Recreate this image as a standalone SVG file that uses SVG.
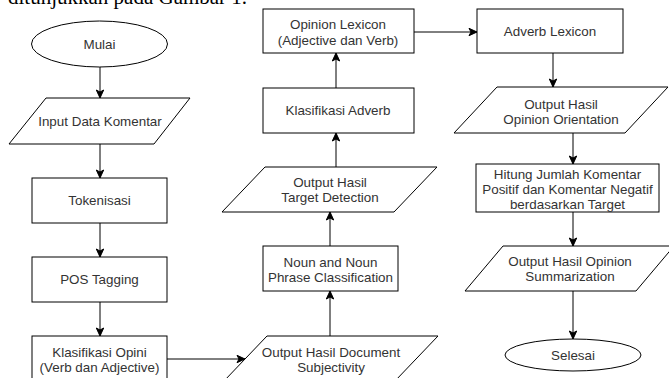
<svg xmlns="http://www.w3.org/2000/svg" width="669" height="378" viewBox="0 0 669 378">
<style>
.s{fill:#fff;stroke:#000;stroke-width:1}
.t{font-family:"Liberation Sans",Arial,sans-serif;font-size:13.4px;fill:#333;text-anchor:middle;dominant-baseline:central}
.c{fill:none;stroke:#000;stroke-width:1}
</style>
<defs>
<marker id="a" markerUnits="userSpaceOnUse" markerWidth="10" markerHeight="10" viewBox="0 0 10 10" refX="9" refY="5" orient="auto">
<path d="M1,1.3 L9,5 L1,8.7 L3,5 z" fill="#000" stroke="#000" stroke-width="1"/>
</marker>
</defs>
<rect width="669" height="378" fill="#fff"/>
<text x="8" y="4" font-family="'Liberation Serif','Times New Roman',serif" font-size="21" fill="#000">ditunjukkan pada Gambar 1.</text>
<g id="connectors">
<line class="c" x1="100" y1="67" x2="100" y2="98" marker-end="url(#a)"/>
<line class="c" x1="100" y1="144" x2="100" y2="178" marker-end="url(#a)"/>
<line class="c" x1="100" y1="223" x2="100" y2="257" marker-end="url(#a)"/>
<line class="c" x1="100" y1="302" x2="100" y2="336" marker-end="url(#a)"/>
<line class="c" x1="167" y1="359" x2="245" y2="359" marker-end="url(#a)"/>
<line class="c" x1="330" y1="336" x2="330" y2="291" marker-end="url(#a)"/>
<line class="c" x1="330" y1="246" x2="330" y2="212" marker-end="url(#a)"/>
<line class="c" x1="336" y1="167" x2="336" y2="133" marker-end="url(#a)"/>
<line class="c" x1="336" y1="88" x2="336" y2="53" marker-end="url(#a)"/>
<line class="c" x1="414" y1="32" x2="477" y2="32" marker-end="url(#a)"/>
<line class="c" x1="553" y1="53" x2="553" y2="87" marker-end="url(#a)"/>
<line class="c" x1="573" y1="133" x2="573" y2="164" marker-end="url(#a)"/>
<line class="c" x1="573" y1="212" x2="573" y2="246" marker-end="url(#a)"/>
<line class="c" x1="573" y1="291" x2="573" y2="339" marker-end="url(#a)"/>
</g>
<g id="mulai">
<ellipse class="s" cx="99.5" cy="44" rx="68" ry="23"/>
<text class="t" x="99.5" y="44">Mulai</text>
</g>
<g id="input">
<polygon class="s" points="46,98 190,98 154,144 9,144"/>
<text class="t" x="100" y="121">Input Data Komentar</text>
</g>
<g id="tokenisasi">
<rect class="s" x="32" y="178" width="135" height="45"/>
<text class="t" x="99.5" y="200.5">Tokenisasi</text>
</g>
<g id="pos">
<rect class="s" x="32" y="257" width="135" height="45"/>
<text class="t" x="99.5" y="279.5">POS Tagging</text>
</g>
<g id="klasifikasi-opini">
<rect class="s" x="32" y="336" width="135" height="60"/>
<text class="t" x="99.5" y="352">Klasifikasi Opini</text>
<text class="t" x="99.5" y="367">(Verb dan Adjective)</text>
</g>
<g id="doc-subjectivity">
<polygon class="s" points="267,336 438,336 395,381 224,381"/>
<text class="t" x="331" y="352">Output Hasil Document</text>
<text class="t" x="331" y="367">Subjectivity</text>
</g>
<g id="noun">
<rect class="s" x="263" y="246" width="135" height="45"/>
<text class="t" x="330.5" y="262">Noun and Noun</text>
<text class="t" x="330.5" y="277">Phrase Classification</text>
</g>
<g id="target">
<polygon class="s" points="265,167 437,167 394,212 222,212"/>
<text class="t" x="330" y="182.5">Output Hasil</text>
<text class="t" x="330" y="197.5">Target Detection</text>
</g>
<g id="klasifikasi-adverb">
<rect class="s" x="263" y="88" width="151" height="45"/>
<text class="t" x="338" y="110.5">Klasifikasi Adverb</text>
</g>
<g id="opinion-lexicon">
<rect class="s" x="263" y="9" width="151" height="44"/>
<text class="t" x="338" y="24.5">Opinion Lexicon</text>
<text class="t" x="338" y="40">(Adjective dan Verb)</text>
</g>
<g id="adverb-lexicon">
<rect class="s" x="477" y="9" width="146" height="44"/>
<text class="t" x="550" y="31">Adverb Lexicon</text>
</g>
<g id="orientation">
<polygon class="s" points="497,87 668,87 625,133 454,133"/>
<text class="t" x="561" y="104.5">Output Hasil</text>
<text class="t" x="561" y="119.5">Opinion Orientation</text>
</g>
<g id="hitung">
<rect class="s" x="476" y="164" width="183" height="48"/>
<text class="t" x="567.5" y="174">Hitung Jumlah Komentar</text>
<text class="t" x="567.5" y="189">Positif dan Komentar Negatif</text>
<text class="t" x="567.5" y="204">berdasarkan Target</text>
</g>
<g id="summarization">
<polygon class="s" points="503,246 674,246 636,291 465,291"/>
<text class="t" x="570" y="261">Output Hasil Opinion</text>
<text class="t" x="570" y="276">Summarization</text>
</g>
<g id="selesai">
<ellipse class="s" cx="573" cy="355" rx="68" ry="16"/>
<text class="t" x="573" y="355">Selesai</text>
</g>
</svg>
